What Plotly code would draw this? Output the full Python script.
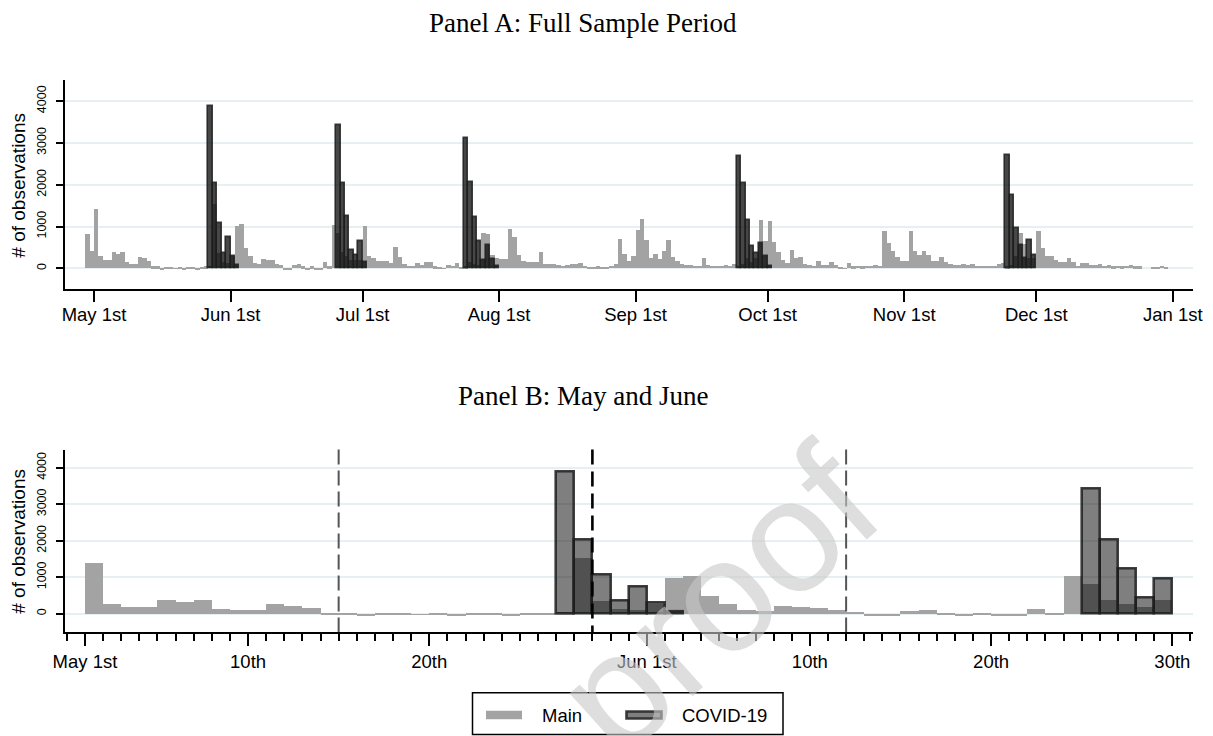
import pandas as pd
import plotly.graph_objects as go

# ---------------------------------------------------------------- data
first_day = "2020-04-29"                     # first day with observations
main_apr = [820, 420]                        # Apr 29-30
main_may = [1410, 280, 200, 200, 380, 340, 385, 140, 110, 110,
            275, 230, 175, 45, 45, -45, 25, 35, -20, 30,
            -35, 30, 30, -35, 30, 45, 50, 1530, 350, 140, 120]
main_jun = [290, 1000, 1046, 490, 287, 120, 100, 213, 195, 185,
            110, 65, -45, -40, 80, 110, 45, -40, 45, -40,
            -40, 140, 45, 1035, 830, 390, 280, 205, 200, 190]
main_jul = [1013, 295, 240, 175, 175, 175, 120, 494, 255, 96,
            56, 56, 120, 80, 136, 150, 40, 24, -10, 72,
            56, 120, 24, 40, 150, 100, 80, 830, 815, 310, 250]
main_aug = [210, 210, 935, 743, 319, 175, 136, 136, 136, 375,
            104, 104, 104, 80, 56, 80, 104, 104, 120, 56,
            24, 24, 40, 24, 24, 56, 104, 690, 330, 180, 280]
main_sep = [915, 1170, 680, 240, 340, 210, 410, 665, 260, 170,
            96, 80, 80, 56, 56, 230, 80, 56, 56, 56,
            72, 56, 90, 60, 100, 250, 150, 250, 1150, 650]
main_oct = [1130, 620, 380, 200, 130, 445, 245, 270, 96, 80,
            56, 160, 64, 80, 144, 80, 24, -10, 120, 40,
            56, 40, 56, 56, 72, 56, 878, 605, 415, 270, 160]
main_nov = [170, 876, 415, 310, 398, 318, 160, 160, 270, 150,
            88, 80, 70, 96, 80, 96, 60, 50, 50, 50,
            60, 96, 128, 40, 80, 300, 840, 580, 250, 250]
main_dec = [889, 476, 294, 294, 198, 143, 135, 238, 135, 56,
            119, 119, 79, 79, 103, 56, 63, 40, 56, 40,
            56, 79, 40, 40, None, None, 24, 24, 56, 24]

covid_start = ["2020-05-27", "2020-06-25", "2020-07-24", "2020-09-24", "2020-11-24"]
covid_may = [3890, 2030, 1080, 370, 750, 300, 65]
covid_jun = [3425, 2040, 1250, 445, 310, 660, 150]
covid_jul = [3105, 2050, 1220, 650, 200, 550, 215, 55]
covid_sep = [2690, 2030, 1150, 530, 350, 590, 280, 50]
covid_nov = [2700, 1750, 970, 555, 230, 670, 320]

tick_a_dates = ["2020-05-01", "2020-06-01", "2020-07-01", "2020-08-01", "2020-09-01",
                "2020-10-01", "2020-11-01", "2020-12-01", "2021-01-01"]
tick_a_text = ["May 1st", "Jun 1st", "Jul 1st", "Aug 1st", "Sep 1st",
               "Oct 1st", "Nov 1st", "Dec 1st", "Jan 1st"]
tick_b_dates = ["2020-05-01", "2020-05-10", "2020-05-20", "2020-06-01",
                "2020-06-10", "2020-06-20", "2020-06-30"]
tick_b_text = ["May 1st", "10th", "20th", "Jun 1st", "10th", "20th", "30th"]
y_ticks = [0, 1000, 2000, 3000, 4000]
event_dates = ["2020-05-15", "2020-05-29", "2020-06-12"]

# ---------------------------------------------------------------- tables
main_vals = main_apr + main_may + main_jun + main_jul + main_aug + main_sep + main_oct + main_nov + main_dec
dates = pd.date_range(first_day, periods=len(main_vals), freq="D")
daily = pd.DataFrame(index=dates)
daily["main"] = [float("nan") if v is None else float(v) for v in main_vals]
daily["covid"] = float("nan")
for start, vals in zip(covid_start, [covid_may, covid_jun, covid_jul, covid_sep, covid_nov]):
    for k, v in enumerate(vals):
        daily.loc[pd.Timestamp(start) + pd.Timedelta(days=k), "covid"] = float(v)

# Panel B: daily histogram of May-June (last bin closed on the right)
mj = daily.loc[pd.Timestamp("2020-05-01"):pd.Timestamp("2020-06-30")].copy()
last_bin = pd.Timestamp("2020-06-29")
mj["bin"] = [min(d, last_bin) for d in mj.index]
hist_b = mj.groupby("bin")[["main", "covid"]].sum(min_count=1)

# ---------------------------------------------------------------- style
W, H = 1213, 736
ML, MR = 65, 20
PW = W - ML - MR
DAY_MS = 86400000
MAIN_C = "rgb(163,163,163)"
COVID_FILL = "rgba(0,0,0,0.5)"
COVID_FILL_A = "rgba(0,0,0,0.72)"
COVID_LINE = "rgba(30,30,30,0.85)"
SANS = "Liberation Sans, Arial, sans-serif"
SERIF = "Liberation Serif, Times New Roman, serif"


def px_x(px):
    return (px - ML) / PW


def px_y(py):
    return 1 - py / H


may1 = pd.Timestamp("2020-05-01")
range_a = [may1 + pd.Timedelta(days=-6.59), may1 + pd.Timedelta(days=249.6)]
range_b = [may1 + pd.Timedelta(days=-1.10), may1 + pd.Timedelta(days=61.14)]

fig = go.Figure()
for df, xa, ya, fill, lw in [(daily, "x", "y", COVID_FILL_A, 1.6), (hist_b, "x2", "y2", COVID_FILL, 2.6)]:
    fig.add_trace(go.Bar(x=list(df.index), y=list(df["main"]), xaxis=xa, yaxis=ya, name="Main",
                         offset=0, width=DAY_MS, showlegend=False,
                         marker=dict(color=MAIN_C, line=dict(width=0))))
    fig.add_trace(go.Bar(x=list(df.index), y=list(df["covid"]), xaxis=xa, yaxis=ya, name="COVID-19",
                         offset=0, width=DAY_MS, showlegend=False,
                         marker=dict(color=fill, line=dict(color=COVID_LINE, width=lw))))

x_common = dict(type="date", showgrid=False, zeroline=False, showline=True, linecolor="black",
                linewidth=1.6, ticks="outside", tickcolor="black", tickwidth=1.6,
                tickmode="array", tickfont=dict(family=SANS, size=18.5, color="black"))
y_common = dict(range=[-500, 4500], tickmode="array", tickvals=y_ticks, tickangle=-90,
                ticks="outside", ticklen=7, tickwidth=1.6, tickcolor="black",
                showline=True, linecolor="black", linewidth=1.6,
                showgrid=True, gridcolor="#e6eff1", gridwidth=1.8, zeroline=False,
                ticklabelstandoff=5,
                tickfont=dict(family=SANS, size=12.5, color="black"))

dom_a = [px_y(289.2), px_y(80.2)]
dom_b = [px_y(632.0), px_y(449.5)]

fig.update_layout(
    width=W, height=H, margin=dict(l=ML, r=MR, t=0, b=0),
    paper_bgcolor="white", plot_bgcolor="white", barmode="overlay", bargap=0,
    xaxis=dict(**x_common, anchor="y", range=range_a, tickvals=tick_a_dates,
               ticktext=tick_a_text, ticklen=11, ticklabelstandoff=-3),
    yaxis=dict(**y_common, anchor="x", domain=dom_a),
    xaxis2=dict(**x_common, anchor="y2", range=range_b, tickvals=tick_b_dates,
                ticktext=tick_b_text, ticklen=12,
                minor=dict(ticks="outside", ticklen=7, tickwidth=1.6, tickcolor="black",
                           tickmode="linear", tick0="2020-05-01", dtick=DAY_MS, showgrid=False)),
    yaxis2=dict(**y_common, anchor="x2", domain=dom_b),
)

# event lines in panel B
for d, col, w, dash in zip(event_dates, ["#555555", "#000000", "#555555"], [2.0, 2.6, 2.0],
                           ["15px,6px", "15px,7px", "15px,6px"]):
    fig.add_shape(type="line", xref="x2", yref="y2 domain", x0=d, x1=d, y0=1, y1=0,
                  line=dict(color=col, width=w, dash=dash), layer="above")

# panel titles and axis titles
fig.add_annotation(text="Panel A: Full Sample Period", xref="paper", yref="paper",
                   x=px_x(583), y=px_y(40.5), xanchor="center", yanchor="bottom",
                   showarrow=False, font=dict(family=SERIF, size=27, color="black"))
fig.add_annotation(text="Panel B: May and June", xref="paper", yref="paper",
                   x=px_x(583), y=px_y(413), xanchor="center", yanchor="bottom",
                   showarrow=False, font=dict(family=SERIF, size=27, color="black"))
for dom in (dom_a, dom_b):
    fig.add_annotation(text="# of observations", xref="paper", yref="paper",
                       x=px_x(19), y=(dom[0] + dom[1]) / 2, textangle=-90,
                       xanchor="center", yanchor="middle", showarrow=False,
                       font=dict(family=SANS, size=19, color="black"))

# legend (drawn as a boxed key)
fig.add_shape(type="rect", xref="paper", yref="paper", x0=px_x(472.5), x1=px_x(783),
              y0=px_y(734.5), y1=px_y(692.7), line=dict(color="black", width=1.5),
              fillcolor="white", layer="above")
fig.add_shape(type="rect", xref="paper", yref="paper", x0=px_x(486), x1=px_x(522),
              y0=px_y(719.3), y1=px_y(710.7), line=dict(width=0), fillcolor=MAIN_C, layer="above")
fig.add_shape(type="rect", xref="paper", yref="paper", x0=px_x(626.5), x1=px_x(661.5),
              y0=px_y(718.5), y1=px_y(711.5), line=dict(color=COVID_LINE, width=2.6),
              fillcolor=COVID_FILL, layer="above")
fig.add_annotation(text="Main", xref="paper", yref="paper", x=px_x(539.5), y=px_y(715),
                   xanchor="left", yanchor="middle", showarrow=False,
                   font=dict(family=SANS, size=18.5, color="black"))
fig.add_annotation(text="COVID-19", xref="paper", yref="paper", x=px_x(680), y=px_y(715),
                   xanchor="left", yanchor="middle", showarrow=False,
                   font=dict(family=SANS, size=18.5, color="black"))

# journal watermark
fig.add_annotation(text="proof", xref="paper", yref="paper", x=px_x(716), y=px_y(600),
                   xanchor="center", yanchor="middle", textangle=-42, showarrow=False,
                   font=dict(family=SANS, size=160, color="rgba(200,200,200,0.6)"))

fig.write_html("out.html", config={"displayModeBar": False},
               post_script="document.body.style.margin='0px';document.body.style.overflow='hidden';")
